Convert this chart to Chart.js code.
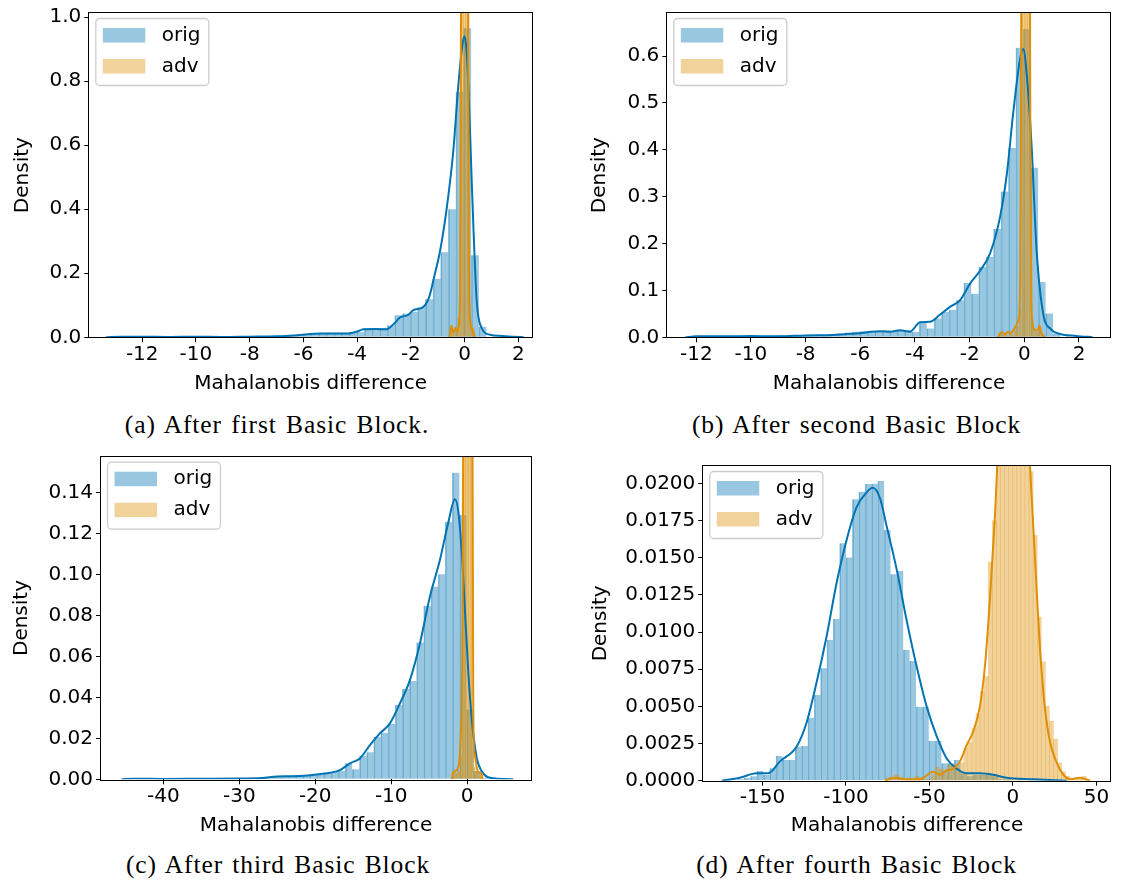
<!DOCTYPE html>
<html>
<head>
<meta charset="utf-8">
<script src="https://cdn.jsdelivr.net/npm/chart.js@4.4.0/dist/chart.umd.min.js"></script>
<style>
  body { margin: 0; background: #fff; width: 1122px; height: 883px; position: relative; overflow: hidden; }
  canvas { position: absolute; }
  .caption {
    position: absolute; width: 560px; text-align: center; white-space: nowrap;
    font-family: "Liberation Serif", serif; font-size: 25.5px; line-height: 25.5px;
    letter-spacing: 0.9px; word-spacing: 2px; color: #000;
  }
</style>
</head>
<body>
<canvas id="panelA"></canvas>
<canvas id="panelB"></canvas>
<canvas id="panelC"></canvas>
<canvas id="panelD"></canvas>
<div class="caption" id="capA"></div>
<div class="caption" id="capB"></div>
<div class="caption" id="capC"></div>
<div class="caption" id="capD"></div>
<script>
const seriesLabels = ['orig', 'adv'];
const captions = [
    '(a) After first Basic Block.',
    '(b) After second Basic Block',
    '(c) After third Basic Block',
    '(d) After fourth Basic Block',
];
const xTitle = 'Mahalanobis difference';
const yTitle = 'Density';

// (a) histogram bins: first edge, bin width, density per bin
const aOrigStart = -13.41;
const aOrigWidth = 0.2845;
const aOrigDensity = [
    0.002, 0, 0, 0.001, 0, 0.002, 0.001, 0, 0, 0.001, 0.002, 0.001, 0,
    0.002, 0.001, 0.002, 0.001, 0.002, 0.003, 0.002, 0.003, 0.002, 0.004, 0.003, 0.005, 0.006,
    0.008, 0.012, 0.012, 0.014, 0.014, 0.014, 0.015, 0.016, 0.028, 0.028, 0.028, 0.038,
    0.069, 0.074, 0.080, 0.093, 0.119, 0.182, 0.266, 0.400, 0.766, 0.965, 0.256, 0.033,
];
const aAdvStart = -0.52;
const aAdvWidth = 0.088;
const aAdvDensity = [0.04, 0.02, 0.03, 0.06, 1.6, 5.8, 6.5, 2.4, 0.05, 0.03];
const aOrigKdeX = [
    -13.35, -12.8, -12.0, -11.0, -10.0, -9.0, -8.0, -7.0, -6.5, -6.13, -5.38, -4.8, -4.26,
    -4.0, -3.77, -3.3, -2.9, -2.6, -2.4, -2.1, -1.91, -1.53, -1.3, -1.16, -0.91, -0.66,
    -0.42, -0.23, -0.1, -0.01, 0.07, 0.14, 0.27, 0.45, 0.64, 0.95, 1.4, 1.82, 2.2,
];
const aOrigKdeY = [
    0, 0.002, 0.002, 0.001, 0.002, 0.001, 0.002, 0.003, 0.005, 0.007, 0.012, 0.012, 0.013,
    0.018, 0.025, 0.026, 0.025, 0.045, 0.062, 0.07, 0.085, 0.095, 0.13, 0.179, 0.271, 0.406,
    0.582, 0.79, 0.9, 0.941, 0.9, 0.79, 0.478, 0.116, 0.029, 0.008, 0.004, 0.002, 0,
];
const aAdvKdeX = [-0.56, -0.5, -0.42, -0.34, -0.26, -0.2, -0.16, -0.13, -0.1, -0.05, 0.0, 0.05, 0.1, 0.13, 0.16, 0.2, 0.26, 0.32, 0.38];
const aAdvKdeY = [0, 0.035, 0.015, 0.03, 0.02, 0.05, 0.25, 1.1, 3.0, 5.2, 6.0, 5.0, 2.5, 1.0, 0.3, 0.06, 0.03, 0.02, 0];
const aXTicks = [-12, -10, -8, -6, -4, -2, 0, 2];
const aYTicks = [0, 0.2, 0.4, 0.6, 0.8, 1.0];

// (b)
const bOrigStart = -12.277;
const bOrigWidth = 0.272;
const bOrigDensity = [
    0.002, 0.001, 0.002, 0.002, 0.001, 0.003, 0.002, 0.002, 0.003, 0.002,
    0.003, 0.003, 0.004, 0.003, 0.004, 0.005, 0.004, 0.006, 0.005, 0.006,
    0.008, 0.010, 0.012, 0.013, 0.011, 0.012, 0.015, 0.014, 0.016, 0.015,
    0.012, 0.031, 0.019, 0.040, 0.054, 0.059, 0.079, 0.116, 0.093, 0.150,
    0.172, 0.231, 0.311, 0.404, 0.618, 0.658, 0.362, 0.118, 0.051, 0.008,
];
const bAdvStart = -0.9;
const bAdvWidth = 0.089;
const bAdvDensity = [0.010, 0.005, 0.008, 0.004, 0.012, 0.006, 0.015, 0.025, 0.060, 2.0, 4.5, 3.5, 0.9, 0.030, 0.015, 0.012, 0.020, 0.008];
const bOrigKdeX = [
    -12.4, -12.0, -11.0, -10.0, -9.0, -8.0, -7.0, -6.5, -6.02, -5.6, -5.28, -4.9, -4.55, -4.18,
    -3.82, -3.45, -3.09, -2.72, -2.35, -1.99, -1.62, -1.26, -0.89, -0.64, -0.40, -0.16, -0.04,
    0.09, 0.27, 0.45, 0.70, 0.94, 1.30, 1.9, 2.5,
];
const bOrigKdeY = [
    0, 0.002, 0.002, 0.003, 0.002, 0.004, 0.005, 0.007, 0.0085, 0.012, 0.013, 0.012, 0.015, 0.012,
    0.032, 0.033, 0.048, 0.065, 0.079, 0.114, 0.142, 0.178, 0.256, 0.348, 0.482, 0.592, 0.615,
    0.56, 0.404, 0.185, 0.047, 0.019, 0.007, 0.003, 0,
];
const bAdvKdeX = [-0.95, -0.9, -0.8, -0.7, -0.6, -0.5, -0.4, -0.3, -0.2, -0.15, -0.12, -0.08, 0.0, 0.1, 0.18, 0.22, 0.26, 0.3, 0.4, 0.5, 0.55, 0.62, 0.7, 0.75];
const bAdvKdeY = [0, 0.008, 0.010, 0.006, 0.012, 0.008, 0.015, 0.025, 0.040, 0.12, 0.5, 1.5, 3.5, 3.2, 1.2, 0.4, 0.08, 0.03, 0.015, 0.015, 0.025, 0.010, 0.003, 0];
const bXTicks = [-12, -10, -8, -6, -4, -2, 0, 2];
const bYTicks = [0, 0.1, 0.2, 0.3, 0.4, 0.5, 0.6];

// (c)
const cOrigStart = -44.26;
const cOrigWidth = 0.94;
const cOrigDensity = [
    0.0003, 0.0002, 0.0002, 0.0001, 0.0002, 0.0003, 0.0001, 0.0002, 0.0002, 0.0001,
    0.0002, 0.0003, 0.0002, 0.0001, 0.0003, 0.0003, 0.0004, 0.0003, 0.0006, 0.0009,
    0.0015, 0.0017, 0.0014, 0.0016, 0.0019, 0.0021, 0.0024, 0.0030, 0.0036, 0.0042,
    0.0078, 0.0049, 0.0114, 0.0132, 0.0208, 0.0227, 0.0270, 0.0362, 0.0440, 0.0480,
    0.0668, 0.0845, 0.0940, 0.1000, 0.1257, 0.1496, 0.1290, 0.0340, 0.0040, 0.0008,
];
const cAdvStart = -1.9;
const cAdvWidth = 0.2;
const cAdvDensity = [0.002, 0.004, 0.003, 0.005, 0.004, 0.012, 0.032, 0.25, 0.6, 0.9, 0.8, 0.5, 0.2, 0.014, 0.006, 0.004, 0.003, 0.002, 0.003];
const cOrigKdeX = [
    -45.5, -44, -40, -35, -30, -27, -25, -23, -21, -19, -18.07, -16.75, -15.43, -14.12, -12.8,
    -11.49, -10.17, -8.86, -7.54, -6.22, -4.91, -3.59, -2.5, -1.62, -1.18, -0.74, -0.30, 0.13,
    0.57, 1.23, 2.11, 3.42, 5.0, 6.05,
];
const cOrigKdeY = [
    0, 0.0003, 0.0002, 0.0003, 0.0004, 0.0006, 0.0014, 0.0015, 0.0019, 0.0027, 0.0032, 0.0045,
    0.0078, 0.0102, 0.0167, 0.0224, 0.0273, 0.037, 0.0484, 0.0663, 0.0891, 0.107, 0.125, 0.1366,
    0.131, 0.112, 0.0826, 0.0533, 0.0306, 0.011, 0.0029, 0.0005, 0.0001, 0,
];
const cAdvKdeX = [-2.0, -1.9, -1.6, -1.3, -1.0, -0.8, -0.7, -0.6, -0.5, -0.4, 0.0, 0.4, 0.6, 0.7, 0.8, 0.9, 1.0, 1.3, 1.6, 1.9, 2.0];
const cAdvKdeY = [0, 0.003, 0.004, 0.005, 0.010, 0.025, 0.035, 0.09, 0.2, 0.4, 0.8, 0.5, 0.2, 0.16, 0.04, 0.015, 0.012, 0.005, 0.003, 0.003, 0];
const cXTicks = [-40, -30, -20, -10, 0];
const cYTicks = [0, 0.02, 0.04, 0.06, 0.08, 0.10, 0.12, 0.14];

// (d)
const dOrigStart = -164.74;
const dOrigWidth = 3.81;
const dOrigDensity = [
    0.0001, 0.0002, 0.0003, 0.00065, 0.0004, 0.00083, 0.00166, 0.00139, 0.00139, 0.00229,
    0.00233, 0.00424, 0.00576, 0.00756, 0.00946, 0.01088, 0.01597, 0.01502, 0.01893, 0.01944,
    0.01996, 0.01998, 0.02016, 0.01686, 0.01388, 0.0141, 0.00879, 0.00805, 0.00498, 0.00498,
    0.00267, 0.00267, 0.00117, 0.00117, 0.00139, 0.0005, 0.0003, 0.0004, 0.0004, 0.0004,
    0.0003, 0.0001, 0.0001, 0, 0.0001, 0, 0, 0.0001, 0, 0,
];
const dAdvStart = -75.8;
const dAdvWidth = 2.44;
const dAdvDensity = [
    0.0002, 0.0001, 0.0004, 0.0002, 0.0001, 0.0002, 0.0001, 0.0003, 0.0002, 0.0001,
    0.0001, 0.0004, 0.0009, 0.0008, 0.0006, 0.0011, 0.0011, 0.0009, 0.0012, 0.0022,
    0.0026, 0.0035, 0.0045, 0.0060, 0.0070, 0.0147, 0.0175, 0.0250, 0.0290, 0.0320,
    0.0340, 0.0350, 0.0330, 0.0300, 0.0260, 0.0208, 0.0165, 0.0110, 0.0080, 0.0050,
    0.0040, 0.0028, 0.0012, 0.0006, 0.0003, 0.0001, 0.0001, 0.0002, 0.0003, 0.0001,
];
const dOrigKdeX = [
    -174.4, -163.5, -153.5, -146.5, -139.5, -129.5, -123.6, -117.6, -111.6, -105.6,
    -99.6, -93.6, -87.6, -84.0, -79.6, -75.6, -69.6, -63.7, -57.7, -51.7,
    -45.7, -39.7, -33.7, -27.7, -19.8, -11.8, -3.8, 12.2, 32.2,
];
const dOrigKdeY = [
    0, 0.0002, 0.0005, 0.0005, 0.0013, 0.0023, 0.0039, 0.0066, 0.0097, 0.0133,
    0.0162, 0.0184, 0.0194, 0.0197, 0.019, 0.0171, 0.0142, 0.0108, 0.0077, 0.005,
    0.003, 0.0015, 0.0008, 0.0005, 0.0005, 0.0004, 0.0002, 0.0001, 0,
];
const dAdvKdeX = [
    -76.6, -71.7, -63.7, -55.7, -47.7, -43.7, -39.7, -35.7, -31.7, -27.7,
    -23.8, -19.8, -16.8, -13.8, -10.8, -7, -4, -1, 3, 6,
    10.2, 12.2, 14.2, 16.2, 19.2, 22.2, 26.2, 30.2, 34.1, 40.1, 46.1,
];
const dAdvKdeY = [
    0, 0.0002, 0.0001, 0.0001, 0.0006, 0.0004, 0.0007, 0.0008, 0.0013, 0.0024,
    0.0033, 0.005, 0.0077, 0.0122, 0.0178, 0.027, 0.032, 0.034, 0.033, 0.029,
    0.0211, 0.017, 0.0128, 0.0088, 0.0048, 0.0026, 0.0012, 0.0004, 0.0001, 0.0002, 0,
];
const dXTicks = [-150, -100, -50, 0, 50];
const dYTicks = [0, 0.0025, 0.005, 0.0075, 0.01, 0.0125, 0.015, 0.0175, 0.02];

const ORIG_LINE = '#0173b2';
const ADV_LINE = '#de8f05';
const ORIG_FILL = 'rgba(1, 115, 178, 0.4)';
const ADV_FILL = 'rgba(222, 143, 5, 0.4)';

Chart.defaults.font.family = "'DejaVu Sans', sans-serif";
Chart.defaults.font.size = 20;
Chart.defaults.color = '#000';

const histPoints = (start, width, values) =>
    values.map((v, i) => ({ x: start + (i + 0.5) * width, y: v }));
const curvePoints = (xs, ys) => xs.map((x, i) => ({ x, y: ys[i] }));

const roundedRect = (ctx, x, y, w, h, r) => {
    ctx.beginPath();
    ctx.moveTo(x + r, y);
    ctx.arcTo(x + w, y, x + w, y + h, r);
    ctx.arcTo(x + w, y + h, x, y + h, r);
    ctx.arcTo(x, y + h, x, y, r);
    ctx.arcTo(x, y, x + w, y, r);
    ctx.closePath();
};

// full box around the plot, like matplotlib spines
const framePlugin = {
    id: 'frame',
    afterDatasetsDraw(chart) {
        const { ctx, chartArea: { left, top, right, bottom } } = chart;
        ctx.save();
        ctx.strokeStyle = '#000';
        ctx.lineWidth = 1;
        ctx.strokeRect(Math.round(left) - 0.5, Math.round(top) - 0.5, Math.round(right - left) + 1, Math.round(bottom - top) + 1);
        ctx.restore();
    },
};

// legend box inside the upper left corner
const insetLegend = {
    id: 'insetLegend',
    afterDraw(chart) {
        const { ctx, chartArea: { left, top } } = chart;
        ctx.save();
        roundedRect(ctx, left + 6.5, top + 5.5, 113, 67, 4);
        ctx.fillStyle = 'rgba(255,255,255,0.8)';
        ctx.fill();
        ctx.strokeStyle = '#cccccc';
        ctx.lineWidth = 1.3;
        ctx.stroke();
        const bars = chart.data.datasets.filter((ds) => ds.type !== 'line');
        bars.forEach((ds, i) => {
            const y = top + 15 + i * 31;
            ctx.fillStyle = ds.backgroundColor;
            ctx.fillRect(left + 13.5, y, 42.5, 14.5);
            ctx.fillStyle = '#000';
            ctx.font = "20px 'DejaVu Sans'";
            ctx.textBaseline = 'middle';
            ctx.fillText(ds.label, left + 72.5, y + 7.5);
        });
        ctx.restore();
    },
};

const drawPanel = (canvasId, d, box) => {
    const canvas = document.getElementById(canvasId);
    canvas.width = box.width;
    canvas.height = box.height;
    canvas.style.left = box.left + 'px';
    canvas.style.top = box.top + 'px';

    const yAxisWidth = box.plotLeft - box.left;
    const xAxisHeight = box.top + box.height - box.plotBottom;
    const fmtY = (v) => v.toFixed(box.decimals);

    const tickGrid = {
        display: true,
        drawOnChartArea: false,
        drawTicks: true,
        tickLength: 5,
        tickColor: '#000',
        tickWidth: 1,
        offset: false,
    };

    return new Chart(canvas, {
        type: 'bar',
        data: {
            datasets: [
                {
                    label: seriesLabels[0],
                    data: histPoints(d.origStart, d.origWidth, d.origDensity),
                    backgroundColor: ORIG_FILL,
                    borderColor: 'rgba(1, 115, 178, 0.45)',
                    borderWidth: { left: 1, right: 0, top: 0, bottom: 0 },
                    xAxisID: 'x',
                    order: 4,
                },
                {
                    label: seriesLabels[1],
                    data: histPoints(d.advStart, d.advWidth, d.advDensity),
                    backgroundColor: ADV_FILL,
                    borderColor: 'rgba(222, 143, 5, 0.55)',
                    borderWidth: { left: box.advEdge, right: 0, top: 0, bottom: 0 },
                    xAxisID: 'xAdv',
                    order: 3,
                },
                {
                    type: 'line',
                    data: curvePoints(d.origKdeX, d.origKdeY),
                    borderColor: ORIG_LINE,
                    borderWidth: 2,
                    pointRadius: 0,
                    cubicInterpolationMode: 'monotone',
                    xAxisID: 'x',
                    order: 2,
                },
                {
                    type: 'line',
                    data: curvePoints(d.advKdeX, d.advKdeY),
                    borderColor: ADV_LINE,
                    borderWidth: 2,
                    pointRadius: 0,
                    cubicInterpolationMode: 'monotone',
                    xAxisID: 'x',
                    order: 1,
                },
            ],
        },
        options: {
            responsive: false,
            animation: false,
            devicePixelRatio: 1,
            datasets: { bar: { barPercentage: 1, categoryPercentage: 1, grouped: false } },
            layout: {
                padding: { left: 0, bottom: 0, top: box.plotTop - box.top, right: box.left + box.width - box.plotRight },
            },
            plugins: { legend: { display: false }, tooltip: { enabled: false } },
            scales: {
                x: {
                    type: 'linear',
                    min: box.xMin,
                    max: box.xMax,
                    offset: false,
                    grid: tickGrid,
                    border: { display: false },
                    ticks: {
                        autoSkip: false,
                        maxRotation: 0,
                        padding: 2,
                        font: { size: 20, lineHeight: 1 },
                        callback: (v) => String(v),
                    },
                    afterBuildTicks: (s) => { s.ticks = d.xTicks.map((value) => ({ value })); },
                    title: {
                        display: true,
                        text: xTitle,
                        font: { size: 20 },
                        padding: { top: 0, bottom: box.top + box.height - box.xTitleY - 12 },
                    },
                    afterFit: (s) => { s.height = xAxisHeight; },
                },
                xAdv: {
                    type: 'linear',
                    display: false,
                    min: box.xMin,
                    max: box.xMax,
                    offset: false,
                    grid: { offset: false },
                    afterBuildTicks: (s) => { s.ticks = d.xTicks.map((value) => ({ value })); },
                },
                y: {
                    type: 'linear',
                    min: 0,
                    max: box.yMax,
                    grid: tickGrid,
                    border: { display: false },
                    ticks: {
                        autoSkip: false,
                        padding: 3,
                        font: { size: 20, lineHeight: 1 },
                        callback: fmtY,
                    },
                    afterBuildTicks: (s) => { s.ticks = d.yTicks.map((value) => ({ value })); },
                    title: {
                        display: true,
                        text: yTitle,
                        font: { size: 20 },
                        padding: { top: box.yTitleX - box.left - 12, bottom: 0 },
                    },
                    afterFit: (s) => { s.width = yAxisWidth; },
                },
            },
        },
        plugins: [framePlugin, insetLegend],
    });
};

const placeCaption = (id, text, centerX, baseline) => {
    const el = document.getElementById(id);
    el.textContent = text;
    el.style.left = centerX - 280 + 'px';
    el.style.top = baseline - 21.4 + 'px';
};

drawPanel('panelA', {
    origStart: aOrigStart, origWidth: aOrigWidth, origDensity: aOrigDensity,
    advStart: aAdvStart, advWidth: aAdvWidth, advDensity: aAdvDensity,
    origKdeX: aOrigKdeX, origKdeY: aOrigKdeY, advKdeX: aAdvKdeX, advKdeY: aAdvKdeY,
    xTicks: aXTicks, yTicks: aYTicks,
}, {
    left: 0, top: 0, width: 545, height: 400,
    plotLeft: 89.3, plotTop: 11, plotRight: 532, plotBottom: 337.3,
    yTitleX: 22.5, xTitleY: 384, xMin: -13.97, xMax: 2.51, yMax: 1.013, decimals: 1, advEdge: 1,
});

drawPanel('panelB', {
    origStart: bOrigStart, origWidth: bOrigWidth, origDensity: bOrigDensity,
    advStart: bAdvStart, advWidth: bAdvWidth, advDensity: bAdvDensity,
    origKdeX: bOrigKdeX, origKdeY: bOrigKdeY, advKdeX: bAdvKdeX, advKdeY: bAdvKdeY,
    xTicks: bXTicks, yTicks: bYTicks,
}, {
    left: 560, top: 0, width: 560, height: 400,
    plotLeft: 667.3, plotTop: 11, plotRight: 1110.7, plotBottom: 337.3,
    yTitleX: 600, xTitleY: 384, xMin: -13.06, xMax: 3.16, yMax: 0.692, decimals: 1, advEdge: 1,
});

drawPanel('panelC', {
    origStart: cOrigStart, origWidth: cOrigWidth, origDensity: cOrigDensity,
    advStart: cAdvStart, advWidth: cAdvWidth, advDensity: cAdvDensity,
    origKdeX: cOrigKdeX, origKdeY: cOrigKdeY, advKdeX: cAdvKdeX, advKdeY: cAdvKdeY,
    xTicks: cXTicks, yTicks: cYTicks,
}, {
    left: 0, top: 440, width: 545, height: 405,
    plotLeft: 101, plotTop: 456.7, plotRight: 531, plotBottom: 779.3,
    yTitleX: 22, xTitleY: 826, xMin: -48.2, xMax: 8.4, yMax: 0.1574, decimals: 2, advEdge: 1,
});

drawPanel('panelD', {
    origStart: dOrigStart, origWidth: dOrigWidth, origDensity: dOrigDensity,
    advStart: dAdvStart, advWidth: dAdvWidth, advDensity: dAdvDensity,
    origKdeX: dOrigKdeX, origKdeY: dOrigKdeY, advKdeX: dAdvKdeX, advKdeY: dAdvKdeY,
    xTicks: dXTicks, yTicks: dYTicks,
}, {
    left: 560, top: 440, width: 560, height: 405,
    plotLeft: 703.3, plotTop: 466, plotRight: 1110.7, plotBottom: 780.7,
    yTitleX: 601, xTitleY: 826, xMin: -185.4, xMax: 58.5, yMax: 0.02117, decimals: 4, advEdge: 0,
});

placeCaption('capA', captions[0], 277, 433.3);
placeCaption('capB', captions[1], 856.5, 433.3);
placeCaption('capC', captions[2], 278, 873.3);
placeCaption('capD', captions[3], 856.5, 873.3);
</script>
</body>
</html>
